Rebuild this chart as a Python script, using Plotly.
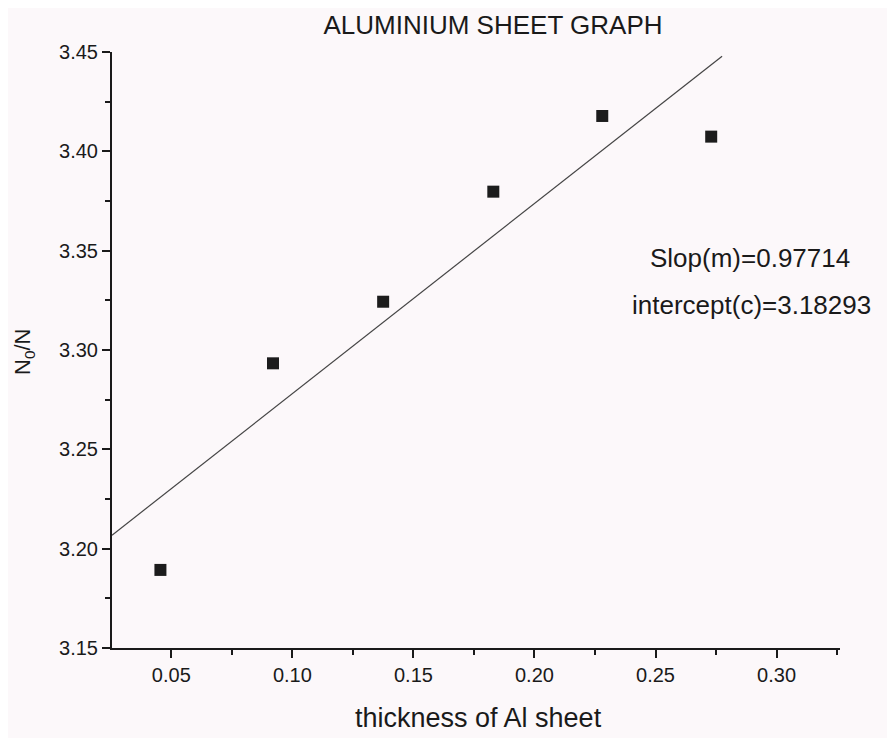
import numpy as np
import plotly.graph_objects as go

# Data
thickness = [0.0455, 0.0920, 0.1375, 0.1830, 0.2280, 0.2730]
ratio = [3.1893, 3.2933, 3.3243, 3.3797, 3.4178, 3.4074]

slope_text = "Slop(m)=0.97714"
intercept_text = "intercept(c)=3.18293"

x_range = [0.0255, 0.3262]
y_range = [3.15, 3.45]
fit_x = [0.0255, 0.2775]

# Linear fit line through the data
m, c = np.polyfit(thickness, ratio, 1)
fit_y = [m * xv + c for xv in fit_x]

fig = go.Figure()
fig.add_trace(go.Scatter(
    x=fit_x, y=fit_y, mode="lines",
    line=dict(color="#444444", width=1.2),
    showlegend=False, hoverinfo="skip"))
fig.add_trace(go.Scatter(
    x=thickness, y=ratio, mode="markers",
    marker=dict(symbol="square", size=12, color="#1c1c1c"),
    showlegend=False))

font_family = "Liberation Sans, Arial, sans-serif"
txt = "#1a1a1a"

fig.update_layout(
    width=887, height=730,
    margin=dict(l=104, r=55, t=44, b=90),
    paper_bgcolor="#fcf8fa", plot_bgcolor="#fcf8fa",
    font=dict(family=font_family, color=txt, size=20),
    title=dict(text="ALUMINIUM SHEET GRAPH", x=0.5468, xanchor="center",
               y=0.9767, yanchor="middle",
               font=dict(size=26, family=font_family, color=txt)),
    annotations=[
        dict(text=slope_text, x=0.876, y=0.654, xref="paper", yref="paper",
             xanchor="center", yanchor="middle", showarrow=False,
             font=dict(size=26, family=font_family, color=txt)),
        dict(text=intercept_text, x=0.878, y=0.5755, xref="paper", yref="paper",
             xanchor="center", yanchor="middle", showarrow=False,
             font=dict(size=26, family=font_family, color=txt)),
        dict(text="thickness of Al sheet", x=0.504, y=-0.1174, xref="paper", yref="paper",
             xanchor="center", yanchor="middle", showarrow=False,
             font=dict(size=27, family=font_family, color=txt)),
        dict(text="N<sub>0</sub>/N", x=-0.1209, y=0.4966, xref="paper", yref="paper",
             xanchor="center", yanchor="middle", showarrow=False, textangle=-90,
             font=dict(size=22, family=font_family, color=txt)),
    ],
)

fig.update_xaxes(
    range=x_range, showgrid=False, zeroline=False,
    showline=True, linecolor=txt, linewidth=2,
    ticks="outside", ticklen=8, tickwidth=1.5, tickcolor=txt,
    tick0=0.05, dtick=0.05, tickformat=".2f",
    minor=dict(ticks="outside", ticklen=5, tickwidth=1.5, tickcolor=txt,
               tick0=0.025, dtick=0.025, showgrid=False),
    tickfont=dict(size=20),
)
fig.update_yaxes(
    range=y_range, showgrid=False, zeroline=False,
    showline=True, linecolor=txt, linewidth=2,
    ticks="outside", ticklen=8, tickwidth=1.5, tickcolor=txt,
    tick0=3.15, dtick=0.05, tickformat=".2f",
    minor=dict(ticks="outside", ticklen=5, tickwidth=1.5, tickcolor=txt,
               tick0=3.175, dtick=0.025, showgrid=False),
    tickfont=dict(size=20),
)

fig.write_html("out.html")
